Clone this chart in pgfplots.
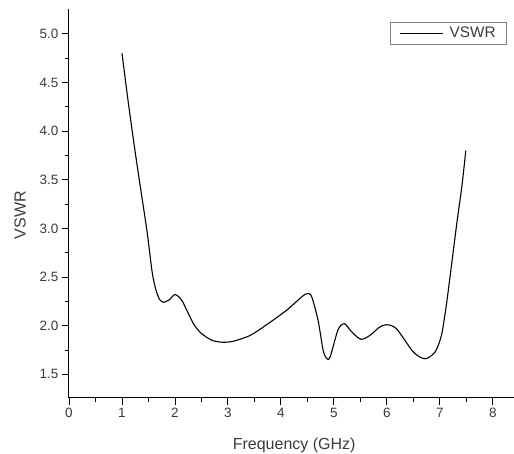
\documentclass[border=0pt]{standalone}
\usepackage{fontspec}
\setmainfont{Liberation Sans}
\usepackage{pgfplots}
\pgfplotsset{compat=1.18}
\definecolor{txt}{HTML}{3A3A3A}
\begin{document}
\begin{tikzpicture}
\begin{axis}[
 at={(0pt,0pt)}, anchor=south west,
 scale only axis, width=445pt, height=389pt,
 xmin=0, xmax=8.4, ymin=1.257, ymax=5.255,
 axis x line=bottom, axis y line=left,
 axis line style={-, line width=1pt, black},
 xtick={0,1,...,8}, ytick={1.5,2,2.5,3,3.5,4,4.5,5},
 minor x tick num=1, minor y tick num=1,
 tick align=outside, major tick length=7pt, minor tick length=4pt,
 every tick/.style={black, line width=0.9pt},
 yticklabel style={/pgf/number format/.cd, fixed, fixed zerofill, precision=1},
 /pgf/number format/assume math mode=true,
 ticklabel style={font=\fontsize{13.5}{15}\selectfont, text=txt},
 xlabel={Frequency (GHz)}, ylabel={VSWR},
 label style={font=\fontsize{16}{18}\selectfont, text=txt},
 xlabel style={at={(axis description cs:0.506,-0.121)}, anchor=center},
 ylabel style={at={(axis description cs:-0.110,0.47)}, anchor=center},
 legend style={at={(0.984,0.967)}, anchor=north east, draw=gray, line width=0.6pt,
   font=\fontsize{15.3}{17}\selectfont, text=txt, inner xsep=9pt, inner ysep=3pt},
 legend cell align=left,
 legend image code/.code={\draw[#1] (0pt,0pt) -- (43pt,0pt); \path (47pt,0pt);},
]
\addplot[black, line width=1.1pt, smooth, tension=0.45] coordinates {
(1.00,4.80) (1.13,4.25) (1.28,3.67) (1.47,2.98) (1.57,2.55) (1.64,2.37)
(1.71,2.27) (1.79,2.24) (1.90,2.27) (2.00,2.32) (2.13,2.26) (2.35,2.02)
(2.50,1.92) (2.70,1.85) (2.90,1.83) (3.10,1.84) (3.42,1.90) (3.73,2.01)
(4.11,2.16) (4.40,2.30) (4.50,2.33) (4.58,2.30) (4.70,2.06) (4.80,1.74)
(4.87,1.66) (4.93,1.68) (5.08,1.96) (5.20,2.02) (5.33,1.94) (5.51,1.86)
(5.68,1.90) (5.85,1.98) (5.99,2.01) (6.18,1.97) (6.50,1.73) (6.72,1.66)
(6.91,1.73) (7.03,1.90) (7.12,2.20) (7.22,2.62) (7.32,3.05) (7.42,3.45)
(7.49,3.80)
};
\addlegendentry{VSWR}
\end{axis}
\pgfresetboundingbox
\path (-69pt,-56pt) rectangle (445pt,398pt);
\end{tikzpicture}
\end{document}
